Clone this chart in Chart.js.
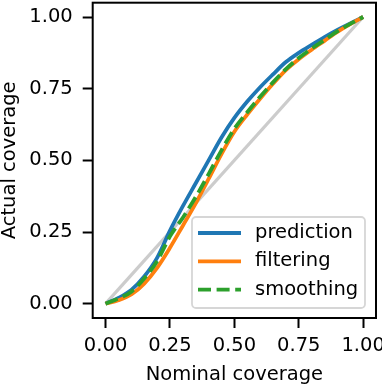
<!DOCTYPE html>
<html>
<head>
<meta charset="utf-8">
<script src="https://cdn.jsdelivr.net/npm/chart.js@4.4.0/dist/chart.umd.min.js"></script>
<style>
  html, body { margin: 0; padding: 0; background: #fff; }
  canvas { display: block; }
</style>
</head>
<body>
<canvas id="coverageChart" width="382" height="388"></canvas>
<script>
// Nominal coverage levels (x) and the actual coverage of each method
const nominal = [0, 0.05, 0.1, 0.15, 0.2, 0.25, 0.3, 0.35, 0.4, 0.45, 0.5,
                 0.55, 0.6, 0.65, 0.7, 0.75, 0.8, 0.85, 0.9, 0.95, 1];
const prediction = [0, 0.02, 0.048, 0.095, 0.16, 0.255, 0.34, 0.42, 0.5, 0.58, 0.648,
                    0.705, 0.755, 0.8, 0.843, 0.875, 0.903, 0.93, 0.955, 0.978, 1];
const filtering = [0, 0.012, 0.032, 0.07, 0.125, 0.195, 0.272, 0.35, 0.435, 0.522, 0.6,
                   0.66, 0.715, 0.767, 0.815, 0.853, 0.886, 0.917, 0.948, 0.975, 1];
const smoothing = [0, 0.018, 0.042, 0.088, 0.148, 0.235, 0.3, 0.372, 0.452, 0.535, 0.61,
                   0.668, 0.722, 0.772, 0.818, 0.857, 0.89, 0.92, 0.95, 0.976, 1];
const diagonal = [0, 1];
const tickValues = [0, 0.25, 0.5, 0.75, 1];
const tickLabels = ['0.00', '0.25', '0.50', '0.75', '1.00'];

const FONT = 'DejaVu Sans';
const FONT_SIZE = 19.5;
const points = (ys, xs) => ys.map((y, i) => ({ x: xs[i], y: y }));

// Full black frame round the plot area (like matplotlib spines)
const framePlugin = {
    id: 'frame',
    afterDatasetsDraw(chart) {
        const { ctx, chartArea: a } = chart;
        ctx.save();
        ctx.strokeStyle = '#000';
        ctx.lineWidth = 2;
        ctx.strokeRect(a.left, a.top, a.right - a.left, a.bottom - a.top);
        ctx.restore();
    }
};

// Legend box in the lower right corner
const legendPlugin = {
    id: 'boxLegend',
    afterDraw(chart) {
        const { ctx } = chart;
        const items = chart.data.datasets.filter(d => d.label);
        const box = { x: 192, y: 217, w: 173, h: 91 };
        ctx.save();
        ctx.beginPath();
        ctx.roundRect(box.x, box.y, box.w, box.h, 4);
        ctx.fillStyle = 'rgba(255,255,255,0.8)';
        ctx.fill();
        ctx.strokeStyle = '#d6d6d6';
        ctx.lineWidth = 1.8;
        ctx.stroke();
        items.forEach((d, i) => {
            const y = 233 + i * 28.3;
            ctx.beginPath();
            ctx.setLineDash(d.borderDash || []);
            ctx.strokeStyle = d.borderColor;
            ctx.lineWidth = d.borderWidth;
            ctx.moveTo(198, y);
            ctx.lineTo(241, y);
            ctx.stroke();
            ctx.setLineDash([]);
            ctx.fillStyle = '#000';
            ctx.font = FONT_SIZE + 'px "' + FONT + '"';
            ctx.textBaseline = 'middle';
            ctx.fillText(d.label, 255, y);
        });
        ctx.restore();
    }
};

const axisCommon = {
    type: 'linear',
    min: -0.05,
    max: 1.05,
    grid: {
        drawOnChartArea: false,
        drawTicks: true,
        tickLength: 10,
        tickWidth: 2,
        tickColor: '#000'
    },
    border: { display: false },
    afterBuildTicks: scale => {
        scale.ticks = tickValues.map(v => ({ value: v }));
    }
};

new Chart(document.getElementById('coverageChart'), {
    type: 'line',
    data: {
        datasets: [
            {
                data: points(diagonal, diagonal),
                borderColor: '#cccccc',
                borderWidth: 3.2,
                pointRadius: 0,
                order: 4
            },
            {
                label: 'prediction',
                data: points(prediction, nominal),
                borderColor: '#1f77b4',
                borderWidth: 3.8,
                pointRadius: 0,
                cubicInterpolationMode: 'monotone',
                order: 3
            },
            {
                label: 'filtering',
                data: points(filtering, nominal),
                borderColor: '#ff7f0e',
                borderWidth: 3.8,
                pointRadius: 0,
                cubicInterpolationMode: 'monotone',
                order: 2
            },
            {
                label: 'smoothing',
                data: points(smoothing, nominal),
                borderColor: '#2ca02c',
                borderWidth: 3.8,
                borderDash: [13, 5.6],
                pointRadius: 0,
                cubicInterpolationMode: 'monotone',
                order: 1
            }
        ]
    },
    options: {
        responsive: false,
        animation: false,
        layout: { padding: { top: 2.7, right: 6, left: 0, bottom: 0 } },
        plugins: {
            legend: { display: false },
            tooltip: { enabled: false }
        },
        scales: {
            x: {
                ...axisCommon,
                position: 'bottom',
                ticks: {
                    color: '#000',
                    padding: 6,
                    maxRotation: 0,
                    font: { family: FONT, size: FONT_SIZE },
                    callback: v => tickLabels[tickValues.indexOf(v)]
                },
                title: {
                    display: true,
                    text: 'Nominal coverage',
                    color: '#000',
                    padding: { top: 0, bottom: 3 },
                    font: { family: FONT, size: FONT_SIZE, lineHeight: 1 }
                },
                afterFit: scale => {
                    scale.height = 70;
                    scale.paddingLeft = 0;
                    scale.paddingRight = 0;
                }
            },
            y: {
                ...axisCommon,
                position: 'left',
                ticks: {
                    color: '#000',
                    padding: 10,
                    font: { family: FONT, size: FONT_SIZE },
                    callback: v => tickLabels[tickValues.indexOf(v)]
                },
                title: {
                    display: true,
                    text: 'Actual coverage',
                    color: '#000',
                    padding: { top: 0, bottom: 0 },
                    font: { family: FONT, size: FONT_SIZE, lineHeight: 1 }
                },
                afterFit: scale => {
                    scale.width = 92.7;
                    scale.paddingTop = 0;
                    scale.paddingBottom = 0;
                }
            }
        }
    },
    plugins: [framePlugin, legendPlugin]
});
</script>
</body>
</html>
